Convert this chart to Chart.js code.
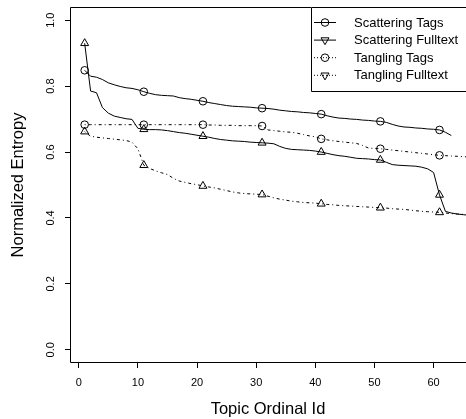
<!DOCTYPE html>
<html>
<head>
<meta charset="utf-8">
<script src="https://cdn.jsdelivr.net/npm/chart.js@4.4.1/dist/chart.umd.min.js"></script>
<style>
  html, body { margin: 0; padding: 0; background: #fff; }
  canvas { display: block; }
</style>
</head>
<body>
<canvas id="chart" width="466" height="419"></canvas>
<script>
'use strict'

// values, topic ids start at 1
const scatteringTags = [
    0.848, 0.830, 0.827, 0.820, 0.810, 0.804, 0.799, 0.795, 0.793, 0.789,
    0.783, 0.778, 0.774, 0.772, 0.771, 0.770, 0.765, 0.762, 0.760, 0.757,
    0.754, 0.750, 0.747, 0.744, 0.741, 0.739, 0.738, 0.737, 0.736, 0.734,
    0.733, 0.732, 0.730, 0.727, 0.725, 0.723, 0.722, 0.720, 0.719, 0.717,
    0.715, 0.710, 0.706, 0.703, 0.702, 0.700, 0.699, 0.697, 0.696, 0.694,
    0.693, 0.690, 0.684, 0.679, 0.676, 0.675, 0.673, 0.672, 0.670, 0.669,
    0.667, 0.660, 0.650
];
const scatteringFulltext = [
    0.930, 0.785, 0.780, 0.735, 0.718, 0.709, 0.705, 0.701, 0.699, 0.672,
    0.669, 0.668, 0.668, 0.667, 0.665, 0.662, 0.659, 0.657, 0.654, 0.651,
    0.648, 0.645, 0.641, 0.638, 0.636, 0.634, 0.633, 0.632, 0.630, 0.629,
    0.628, 0.627, 0.625, 0.617, 0.611, 0.608, 0.607, 0.606, 0.605, 0.603,
    0.600, 0.596, 0.592, 0.589, 0.587, 0.584, 0.581, 0.580, 0.579, 0.577,
    0.576, 0.569, 0.562, 0.560, 0.559, 0.558, 0.557, 0.554, 0.549, 0.538,
    0.470, 0.420, 0.415, 0.412, 0.410, 0.408
];
const tanglingTags = [
    0.683, 0.683, 0.683, 0.683, 0.683, 0.683, 0.683, 0.683, 0.683, 0.683,
    0.683, 0.683, 0.683, 0.683, 0.683, 0.683, 0.683, 0.683, 0.683, 0.683,
    0.683, 0.682, 0.682, 0.681, 0.681, 0.681, 0.680, 0.680, 0.680, 0.680,
    0.679, 0.667, 0.665, 0.663, 0.661, 0.660, 0.657, 0.653, 0.649, 0.646,
    0.640, 0.637, 0.634, 0.632, 0.630, 0.628, 0.626, 0.620, 0.612, 0.611,
    0.610, 0.608, 0.606, 0.604, 0.602, 0.600, 0.598, 0.596, 0.594, 0.592,
    0.590, 0.589, 0.588, 0.587, 0.586, 0.585
];
const tanglingFulltext = [
    0.662, 0.648, 0.645, 0.643, 0.641, 0.639, 0.637, 0.635, 0.630, 0.610,
    0.560, 0.550, 0.543, 0.537, 0.532, 0.520, 0.512, 0.508, 0.504, 0.501,
    0.497, 0.494, 0.491, 0.487, 0.483, 0.479, 0.476, 0.474, 0.473, 0.472,
    0.471, 0.466, 0.461, 0.457, 0.454, 0.451, 0.449, 0.447, 0.446, 0.445,
    0.443, 0.441, 0.440, 0.438, 0.437, 0.436, 0.435, 0.434, 0.433, 0.432,
    0.431, 0.430, 0.428, 0.427, 0.426, 0.424, 0.422, 0.420, 0.419, 0.418,
    0.417, 0.415, 0.413, 0.412, 0.411, 0.410
];

const seriesNames = ['Scattering Tags', 'Scattering Fulltext', 'Tangling Tags', 'Tangling Fulltext'];
const xTicks = [0, 10, 20, 30, 40, 50, 60];
const yTicks = [0, 0.2, 0.4, 0.6, 0.8, 1.0];
const yTickLabels = ['0.0', '0.2', '0.4', '0.6', '0.8', '1.0'];

const FONT = '"Liberation Sans", Arial, Helvetica, sans-serif';
const solid = [];
const dotDash = [1, 3, 3, 3];

function toPoints(values) {
    return values.map((v, i) => ({ x: i + 1, y: v }));
}

// a marker on every tenth topic, like the original plot
function markerRadius(size) {
    return ctx => (ctx.dataIndex % 10 === 0 ? size : 0);
}

function makeSet(label, values, dash, style, size) {
    return {
        label: label,
        data: toPoints(values),
        borderColor: '#000',
        borderWidth: 1,
        borderDash: dash,
        tension: 0,
        pointStyle: style,
        pointRadius: markerRadius(size),
        pointHoverRadius: markerRadius(size),
        pointBorderColor: '#000',
        pointBackgroundColor: 'rgba(0,0,0,0)',
        pointBorderWidth: 1
    };
}

// no extra room for labels, the plot box is fixed
function noPadding(scale) {
    scale.paddingTop = 0;
    scale.paddingBottom = 0;
    scale.paddingLeft = 0;
    scale.paddingRight = 0;
}

const frame = {
    id: 'frame',
    afterDraw(chart) {
        const ctx = chart.ctx;
        const a = chart.chartArea;
        ctx.save();
        ctx.strokeStyle = '#000';
        ctx.lineWidth = 1;
        ctx.beginPath();
        ctx.moveTo(a.right + 2, a.top + 0.5);
        ctx.lineTo(a.left + 0.5, a.top + 0.5);
        ctx.lineTo(a.left + 0.5, a.bottom - 0.5);
        ctx.lineTo(a.right + 2, a.bottom - 0.5);
        ctx.stroke();
        ctx.restore();
    }
};

const legendBox = {
    id: 'legendBox',
    afterDraw(chart) {
        const ctx = chart.ctx;
        const a = chart.chartArea;
        const left = a.right - 155;
        const top = a.top;
        const rowH = 17.6;
        ctx.save();
        ctx.fillStyle = '#fff';
        ctx.fillRect(left, top, a.right - left, 84);
        ctx.strokeStyle = '#000';
        ctx.lineWidth = 1;
        ctx.beginPath();
        ctx.moveTo(a.right + 2, top + 0.5);
        ctx.lineTo(left + 0.5, top + 0.5);
        ctx.lineTo(left + 0.5, top + 84.5);
        ctx.lineTo(a.right + 2, top + 84.5);
        ctx.stroke();

        const styles = [
            { dash: solid, point: 'circle', rot: 0, r: 3.8 },
            { dash: solid, point: 'triangle', rot: 180, r: 4.6 },
            { dash: [1, 2], point: 'circle', rot: 0, r: 3.8 },
            { dash: [1, 2], point: 'triangle', rot: 180, r: 4.6 }
        ];
        ctx.font = '13px ' + FONT;
        ctx.textBaseline = 'middle';
        seriesNames.forEach((name, i) => {
            const y = top + 15.5 + i * rowH;
            const s = styles[i];
            ctx.setLineDash(s.dash);
            ctx.beginPath();
            ctx.moveTo(left + 3, y);
            ctx.lineTo(left + 25, y);
            ctx.stroke();
            ctx.setLineDash([]);
            ctx.fillStyle = 'rgba(0,0,0,0)';
            Chart.helpers.drawPoint(ctx, { pointStyle: s.point, rotation: s.rot, radius: s.r, borderWidth: 1 }, left + 14, y);
            ctx.fillStyle = '#000';
            ctx.fillText(name, left + 43, y + 0.5);
        });
        ctx.restore();
    }
};

new Chart(document.getElementById('chart'), {
    type: 'line',
    data: {
        datasets: [
            makeSet(seriesNames[0], scatteringTags, solid, 'circle', 3.8),
            makeSet(seriesNames[1], scatteringFulltext, solid, 'triangle', 4.6),
            makeSet(seriesNames[2], tanglingTags, dotDash, 'circle', 3.8),
            makeSet(seriesNames[3], tanglingFulltext, dotDash, 'triangle', 4.6)
        ]
    },
    options: {
        responsive: false,
        animation: false,
        devicePixelRatio: 1,
        layout: { autoPadding: false, padding: { top: 7, right: 0, left: 0, bottom: 0 } },
        plugins: {
            legend: { display: false },
            tooltip: { enabled: false }
        },
        scales: {
            x: {
                type: 'linear',
                min: -1.48,
                max: 65.48,
                afterBuildTicks: scale => { scale.ticks = xTicks.map(v => ({ value: v })); },
                afterFit: scale => { scale.height = 56; noPadding(scale); },
                border: { display: false },
                grid: { drawOnChartArea: false, drawTicks: true, tickLength: 5, tickColor: '#000' },
                ticks: {
                    color: '#000',
                    padding: 8,
                    maxRotation: 0,
                    font: { family: FONT, size: 11 }
                },
                title: {
                    display: true,
                    text: 'Topic Ordinal Id',
                    color: '#000',
                    padding: { top: 0, bottom: 0 },
                    font: { family: FONT, size: 16.5 }
                }
            },
            y: {
                type: 'linear',
                min: -0.04,
                max: 1.04,
                afterBuildTicks: scale => { scale.ticks = yTicks.map(v => ({ value: v })); },
                afterFit: scale => { scale.width = 70; noPadding(scale); },
                border: { display: false },
                grid: { drawOnChartArea: false, drawTicks: true, tickLength: 5, tickColor: '#000' },
                ticks: {
                    color: '#000',
                    padding: 6,
                    minRotation: 90,
                    maxRotation: 90,
                    crossAlign: 'center',
                    font: { family: FONT, size: 11 },
                    callback: (value, index) => yTickLabels[index]
                },
                title: {
                    display: true,
                    text: 'Normalized Entropy',
                    color: '#000',
                    padding: { top: 9, bottom: 0 },
                    font: { family: FONT, size: 16.5 }
                }
            }
        }
    },
    plugins: [frame, legendBox]
});
</script>
</body>
</html>
